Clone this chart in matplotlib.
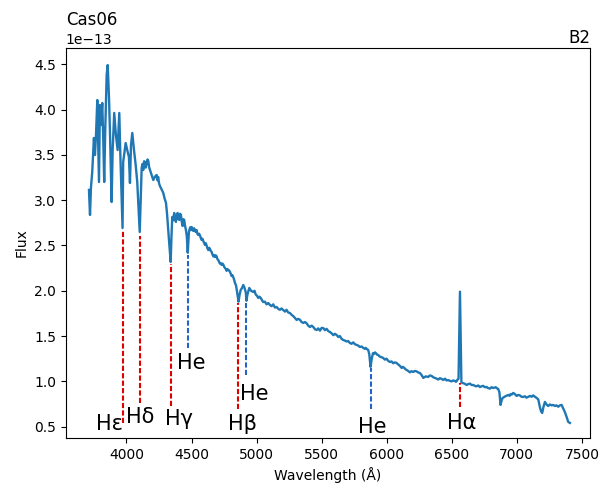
import matplotlib
matplotlib.use("Agg")
import matplotlib.pyplot as plt

# Spectrum of Cas06 (B2 star): wavelength in Angstrom, flux in units of 1e-13.
# Split into pieces: blue end, Hgamma-Hbeta, continuum up to Halpha, red end.
blue_wave = [
    3712, 3720, 3727, 3737, 3745, 3750, 3758, 3766, 3776, 3783,
    3789, 3796, 3804, 3814, 3822, 3829, 3837, 3848, 3856, 3866,
    3873, 3886, 3894, 3906, 3919, 3932, 3945, 3952, 3970, 3975,
    3994, 4006, 4019, 4027, 4035, 4045, 4058, 4071, 4083, 4096,
    4102, 4117, 4123, 4129, 4136, 4142, 4148, 4155, 4162, 4168,
    4175, 4181, 4188, 4194, 4200, 4206, 4219, 4232, 4238, 4244,
    4250, 4257, 4270, 4283, 4293, 4304, 4312, 4321, 4330, 4340,
    4346, 4352, 4360, 4367, 4373, 4380, 4386, 4393, 4400, 4406,
    4412, 4419, 4425, 4432, 4438, 4444, 4450, 4457, 4464, 4471,
]
blue_flux = [
    3.113, 2.837, 3.135, 3.311, 3.554, 3.687, 3.499, 3.720, 4.106, 3.643,
    3.201, 4.051, 3.830, 4.073, 3.665, 3.201, 3.775, 4.382, 4.492, 4.128,
    3.775, 2.980, 3.554, 3.963, 3.720, 3.554, 3.963, 3.554, 2.693, 3.422,
    3.631, 3.554, 3.477, 3.190, 3.609, 3.742, 3.554, 3.389, 3.201, 2.837,
    2.649, 3.356, 3.400, 3.333, 3.430, 3.422, 3.360, 3.400, 3.450, 3.433,
    3.360, 3.333, 3.300, 3.278, 3.250, 3.223, 3.260, 3.278, 3.220, 3.256,
    3.190, 3.157, 3.120, 3.080, 3.020, 2.969, 2.850, 2.671, 2.500, 2.318,
    2.600, 2.815, 2.780, 2.859, 2.800, 2.760, 2.820, 2.859, 2.790, 2.782,
    2.850, 2.837, 2.760, 2.715, 2.790, 2.782, 2.720, 2.671, 2.600, 2.420,
]

mid_wave = [
    4476, 4480, 4485, 4490, 4495, 4501, 4507, 4514, 4520, 4526,
    4532, 4539, 4545, 4552, 4558, 4565, 4571, 4578, 4584, 4590,
    4597, 4603, 4610, 4616, 4622, 4629, 4636, 4642, 4648, 4655,
    4661, 4668, 4674, 4680, 4687, 4693, 4699, 4705, 4712, 4718,
    4725, 4732, 4738, 4744, 4751, 4757, 4764, 4770, 4776, 4782,
    4789, 4795, 4801, 4808, 4815, 4821, 4828, 4834, 4842, 4850,
    4861, 4870, 4878, 4888, 4898, 4908, 4918, 4922, 4930, 4944,
]
mid_flux = [
    2.560, 2.649, 2.680, 2.700, 2.670, 2.704, 2.680, 2.660, 2.690, 2.671,
    2.650, 2.670, 2.630, 2.616, 2.630, 2.610, 2.585, 2.561, 2.575, 2.550,
    2.530, 2.506, 2.525, 2.500, 2.470, 2.450, 2.475, 2.460, 2.440, 2.428,
    2.400, 2.380, 2.395, 2.373, 2.390, 2.380, 2.350, 2.340, 2.320, 2.300,
    2.305, 2.285, 2.300, 2.290, 2.265, 2.252, 2.240, 2.220, 2.240, 2.230,
    2.225, 2.210, 2.190, 2.163, 2.170, 2.150, 2.120, 2.086, 2.060, 1.990,
    1.880, 1.960, 2.009, 2.030, 2.064, 2.030, 1.976, 1.890, 1.960, 2.031,
]

cont_wave = [
    4958, 4974, 4984, 4993, 5003, 5013, 5022, 5032, 5042, 5051,
    5064, 5077, 5090, 5103, 5115, 5128, 5141, 5154, 5167, 5180,
    5192, 5205, 5218, 5230, 5243, 5256, 5269, 5282, 5295, 5308,
    5320, 5333, 5346, 5359, 5372, 5385, 5397, 5410, 5423, 5436,
    5449, 5462, 5474, 5487, 5500, 5512, 5525, 5538, 5551, 5564,
    5577, 5590, 5602, 5615, 5628, 5640, 5653, 5666, 5679, 5692,
    5704, 5717, 5730, 5743, 5756, 5769, 5781, 5794, 5807, 5820,
    5830, 5839, 5848, 5858, 5866, 5876, 5885, 5894, 5902, 5910,
    5918, 5926, 5935, 5945, 5954, 5963, 5973, 5986, 5999, 6012,
    6025, 6037, 6050, 6063, 6076, 6085, 6095, 6105, 6115, 6124,
    6134, 6143, 6153, 6165, 6178, 6191, 6204, 6217, 6230, 6242,
    6255, 6268, 6281, 6300, 6319, 6332, 6345, 6358, 6371, 6384,
    6396, 6409, 6422, 6435, 6448, 6460, 6473, 6486, 6498, 6511,
    6524, 6533, 6542, 6552, 6558, 6563, 6568, 6574,
]
cont_flux = [
    2.000, 1.987, 2.000, 1.960, 1.945, 1.921, 1.935, 1.920, 1.895, 1.876,
    1.880, 1.850, 1.865, 1.843, 1.830, 1.850, 1.815, 1.821, 1.800, 1.790,
    1.805, 1.788, 1.770, 1.790, 1.760, 1.755, 1.735, 1.720, 1.700, 1.678,
    1.690, 1.680, 1.655, 1.645, 1.655, 1.640, 1.615, 1.600, 1.615, 1.600,
    1.575, 1.567, 1.585, 1.560, 1.590, 1.589, 1.565, 1.580, 1.555, 1.545,
    1.530, 1.510, 1.525, 1.512, 1.490, 1.500, 1.470, 1.457, 1.450, 1.440,
    1.445, 1.424, 1.415, 1.430, 1.410, 1.402, 1.395, 1.380, 1.385, 1.369,
    1.360, 1.370, 1.355, 1.347, 1.300, 1.160, 1.250, 1.310, 1.302, 1.320,
    1.310, 1.295, 1.291, 1.275, 1.270, 1.265, 1.258, 1.240, 1.250, 1.225,
    1.214, 1.220, 1.200, 1.210, 1.203, 1.190, 1.180, 1.165, 1.148, 1.160,
    1.150, 1.135, 1.126, 1.115, 1.100, 1.112, 1.104, 1.115, 1.110, 1.098,
    1.093, 1.070, 1.038, 1.055, 1.049, 1.065, 1.060, 1.045, 1.038, 1.030,
    1.020, 1.035, 1.027, 1.015, 1.030, 1.010, 1.015, 1.005, 1.000, 1.010,
    1.004, 0.995, 1.015, 1.030, 1.550, 1.990, 1.500, 0.990,
]

red_wave = [
    6583, 6598, 6614, 6627, 6640, 6652, 6665, 6678, 6690, 6703,
    6716, 6729, 6742, 6755, 6768, 6780, 6793, 6806, 6819, 6838,
    6850, 6857, 6866, 6875, 6883, 6891, 6912, 6934, 6944, 6953,
    6962, 6972, 6985, 6998, 7010, 7023, 7036, 7049, 7062, 7075,
    7088, 7101, 7114, 7126, 7139, 7152, 7165, 7177, 7186, 7195,
    7205, 7216, 7228, 7241, 7254, 7267, 7280, 7293, 7305, 7318,
    7331, 7344, 7357, 7369, 7382, 7395, 7408,
]
red_flux = [
    0.982, 0.975, 0.960, 0.970, 0.975, 0.960, 0.960, 0.950, 0.945, 0.955,
    0.938, 0.945, 0.950, 0.935, 0.938, 0.925, 0.920, 0.935, 0.927, 0.935,
    0.920, 0.916, 0.880, 0.740, 0.790, 0.817, 0.835, 0.850, 0.840, 0.860,
    0.855, 0.872, 0.860, 0.839, 0.850, 0.845, 0.830, 0.828, 0.835, 0.820,
    0.830, 0.839, 0.830, 0.845, 0.830, 0.817, 0.800, 0.717, 0.670, 0.651,
    0.720, 0.773, 0.745, 0.728, 0.745, 0.735, 0.740, 0.728, 0.735, 0.720,
    0.735, 0.740, 0.700, 0.662, 0.610, 0.552, 0.541,
]

# Hydrogen Balmer lines
h_names = ["Hε", "Hδ", "Hγ", "Hβ", "Hα"]
h_wave = [3970, 4102, 4340, 4861, 6563]
h_top = [2.67, 2.60, 2.30, 1.86, 0.98]
h_bottom = [0.54, 0.765, 0.73, 0.70, 0.72]
h_label_x = [3873, 4108, 4403, 4895, 6580]
h_label_y = [0.464, 0.544, 0.519, 0.467, 0.470]

# Helium lines
he_names = ["He", "He", "He"]
he_wave = [4471, 4922, 5876]
he_top = [2.395, 1.865, 1.145]
he_bottom = [1.365, 1.07, 0.69]
he_label_x = [4496, 4984, 5889]
he_label_y = [1.132, 0.795, 0.426]

wavelength = blue_wave + mid_wave + cont_wave + red_wave
flux = blue_flux + mid_flux + cont_flux + red_flux

fig = plt.figure(figsize=(6.02, 4.91), dpi=100)
ax = fig.add_axes([0.1091, 0.108, 0.8709, 0.7942])

ax.plot(wavelength, [v * 1e-13 for v in flux], color="#1f77b4", lw=1.7)

dash = (0, (2.5, 1.07))
for name, w, t, b, lx, ly in zip(h_names, h_wave, h_top, h_bottom, h_label_x, h_label_y):
    ax.plot([w, w], [b * 1e-13, t * 1e-13], color="#e00000", lw=1.5, linestyle=dash)
    ax.text(lx, ly * 1e-13, name, fontsize=15, ha="center", va="baseline")

for name, w, t, b, lx, ly in zip(he_names, he_wave, he_top, he_bottom, he_label_x, he_label_y):
    ax.plot([w, w], [b * 1e-13, t * 1e-13], color="#2563c4", lw=1.5, linestyle=dash)
    ax.text(lx, ly * 1e-13, name, fontsize=15, ha="center", va="baseline")

ax.set_xlim(3533, 7562)
ax.set_ylim(0.375e-13, 4.68e-13)
ax.set_xlabel("Wavelength (Å)")
ax.set_ylabel("Flux")
ax.set_title("Cas06", loc="left")
ax.text(1.0, 1.002, "B2", transform=ax.transAxes, ha="right", va="bottom", fontsize=12)

fig.savefig("out.png", dpi=100)
